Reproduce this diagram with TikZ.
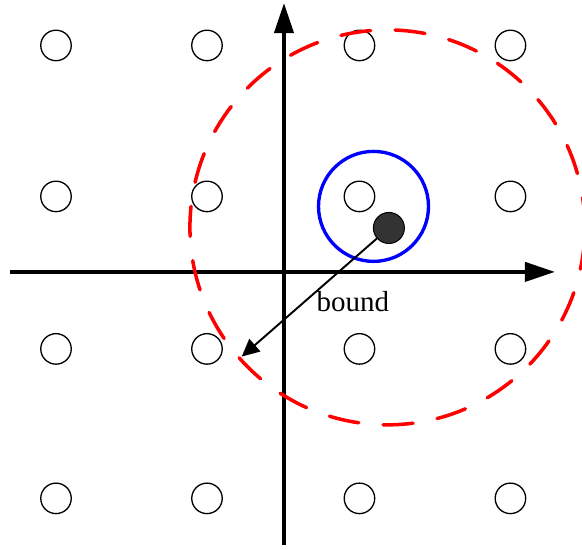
\documentclass[tikz,border=0pt]{standalone}
\usepackage{fontspec}
\setmainfont{Liberation Serif}
\usetikzlibrary{arrows.meta}
\begin{document}
\begin{tikzpicture}[x=3.02cm, y=3.02cm,
    pt/.style={circle, draw, line width=0.75pt, minimum size=0.61cm, inner sep=0pt},
    axis/.style={line width=2.3pt, -{Triangle[length=0.6cm, width=0.38cm]}}]
    \useasboundingbox (-1.881,-1.841) rectangle (1.974,1.801);

    % lattice points
    \node[pt] (p11) at (-1.51, 1.5) {};
    \node[pt] (p12) at (-0.51, 1.5) {};
    \node[pt] (p13) at (0.5, 1.5) {};
    \node[pt] (p14) at (1.5, 1.5) {};
    \node[pt] (p21) at (-1.51, 0.5) {};
    \node[pt] (p22) at (-0.51, 0.5) {};
    \node[pt] (p23) at (0.5, 0.5) {};
    \node[pt] (p24) at (1.5, 0.5) {};
    \node[pt] (p31) at (-1.51, -0.51) {};
    \node[pt] (p32) at (-0.51, -0.51) {};
    \node[pt] (p33) at (0.5, -0.51) {};
    \node[pt] (p34) at (1.5, -0.51) {};
    \node[pt] (p41) at (-1.51, -1.5) {};
    \node[pt] (p42) at (-0.51, -1.5) {};
    \node[pt] (p43) at (0.5, -1.5) {};
    \node[pt] (p44) at (1.5, -1.5) {};

    % axes
    \coordinate (xl) at (-1.815, 0);
    \coordinate (xr) at (1.795, 0);
    \coordinate (yb) at (0, -1.808);
    \coordinate (yt) at (0, 1.781);
    \draw[axis] (xl) -- (xr);
    \draw[axis] (yb) -- (yt);

    % spheres
    \draw[blue, line width=1.9pt] (0.593, 0.434) circle (1.1cm);
    \draw[red, line width=2pt, line cap=round, dash pattern=on 0.6cm off 0.49cm] (0.685, 0.295) circle (3.95cm);

    \node[circle, draw, line width=0.6pt, fill=black!80, minimum size=0.62cm, inner sep=0pt] (rx) at (0.695, 0.291) {};
    \coordinate (rb) at (-0.28, -0.561);
    \draw[line width=1.1pt, -{Triangle[length=0.35cm, width=0.33cm]}] (rx) -- (rb);
    \node[font=\fontsize{16.5}{20}\selectfont] (bd) at (0.457, -0.199) {bound};
\end{tikzpicture}
\end{document}
